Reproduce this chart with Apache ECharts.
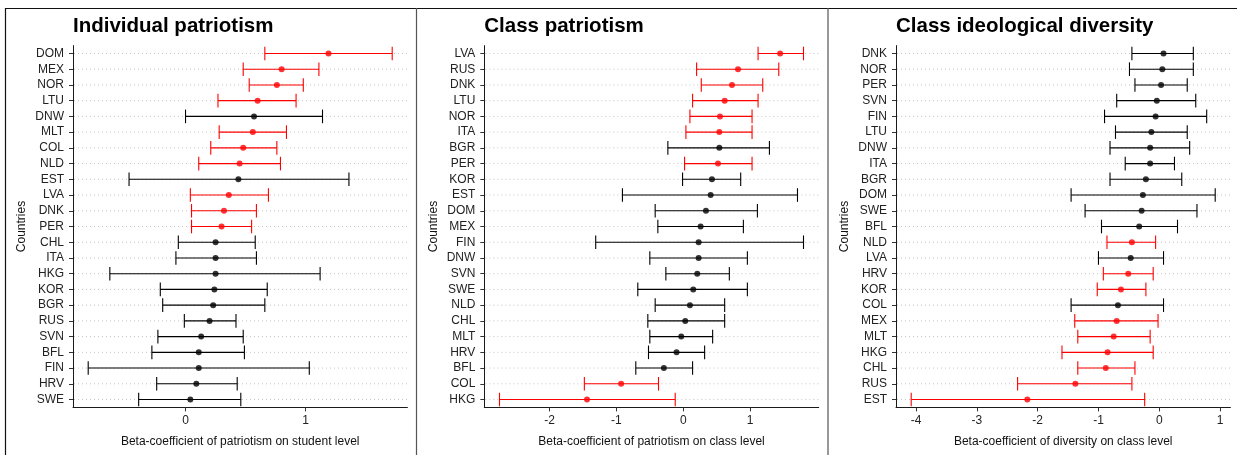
<!DOCTYPE html>
<html>
<head>
<meta charset="utf-8">
<script src="https://cdn.jsdelivr.net/npm/echarts@6/dist/echarts.min.js"></script>
<style>
html,body{margin:0;padding:0;background:#fff;}
#chart{width:1237px;height:455px;}
</style>
</head>
<body>
<div id="chart"></div>
<script>
// ---------- Data ----------
const panelTitles = ['Individual patriotism', 'Class patriotism', 'Class ideological diversity'];
const xAxisTitles = [
  'Beta-coefficient of patriotism on student level',
  'Beta-coefficient of patriotism on class level',
  'Beta-coefficient of diversity on class level'
];
const yAxisTitle = 'Countries';

const ticks1 = [0, 1];
const ticks2 = [-2, -1, 0, 1];
const ticks3 = [-4, -3, -2, -1, 0, 1];

// Panel 1: Individual patriotism (top to bottom)
const cats1 = ['DOM','MEX','NOR','LTU','DNW','MLT','COL','NLD','EST','LVA','DNK','PER','CHL','ITA','HKG','KOR','BGR','RUS','SVN','BFL','FIN','HRV','SWE'];
const est1  = [1.19,0.80,0.76,0.60,0.57,0.56,0.48,0.45,0.44,0.36,0.32,0.30,0.25,0.25,0.25,0.24,0.23,0.20,0.13,0.11,0.11,0.09,0.04];
const lo1   = [0.66,0.48,0.53,0.27,0.00,0.28,0.21,0.11,-0.47,0.04,0.05,0.05,-0.06,-0.08,-0.63,-0.21,-0.19,-0.01,-0.23,-0.28,-0.81,-0.24,-0.39];
const hi1   = [1.72,1.11,0.98,0.92,1.14,0.84,0.76,0.79,1.36,0.69,0.59,0.55,0.58,0.59,1.12,0.68,0.66,0.42,0.48,0.49,1.03,0.43,0.46];

// Panel 2: Class patriotism
const cats2 = ['LVA','RUS','DNK','LTU','NOR','ITA','BGR','PER','KOR','EST','DOM','MEX','FIN','DNW','SVN','SWE','NLD','CHL','MLT','HRV','BFL','COL','HKG'];
const est2  = [1.45,0.82,0.73,0.62,0.55,0.54,0.54,0.52,0.43,0.41,0.34,0.26,0.23,0.23,0.21,0.15,0.10,0.03,-0.03,-0.10,-0.29,-0.93,-1.44];
const lo2   = [1.12,0.20,0.27,0.14,0.10,0.04,-0.23,0.02,-0.01,-0.91,-0.42,-0.38,-1.31,-0.50,-0.26,-0.68,-0.42,-0.53,-0.50,-0.52,-0.71,-1.48,-2.75];
const hi2   = [1.80,1.43,1.19,1.12,1.03,1.03,1.29,1.03,0.86,1.71,1.11,0.90,1.80,0.96,0.69,0.96,0.62,0.62,0.44,0.32,0.14,-0.37,-0.12];

// Panel 3: Class ideological diversity
const cats3 = ['DNK','NOR','PER','SVN','FIN','LTU','DNW','ITA','BGR','DOM','SWE','BFL','NLD','LVA','HRV','KOR','COL','MEX','MLT','HKG','CHL','RUS','EST'];
const est3  = [0.07,0.05,0.03,-0.04,-0.06,-0.13,-0.15,-0.15,-0.22,-0.27,-0.29,-0.33,-0.45,-0.47,-0.51,-0.63,-0.68,-0.70,-0.75,-0.85,-0.88,-1.38,-2.17];
const lo3   = [-0.45,-0.49,-0.40,-0.70,-0.90,-0.72,-0.81,-0.56,-0.81,-1.45,-1.22,-0.95,-0.86,-1.00,-0.92,-1.02,-1.45,-1.39,-1.34,-1.60,-1.34,-2.33,-4.08];
const hi3   = [0.56,0.56,0.46,0.60,0.78,0.46,0.50,0.25,0.37,0.92,0.62,0.30,-0.06,0.07,-0.10,-0.22,0.07,-0.02,-0.15,-0.10,-0.40,-0.45,-0.24];

// ---------- Build ----------
const panels = [
  {cats: cats1, est: est1, lo: lo1, hi: hi1, ticks: ticks1},
  {cats: cats2, est: est2, lo: lo2, hi: hi2, ticks: ticks2},
  {cats: cats3, est: est3, lo: lo3, hi: hi3, ticks: ticks3}
];
const gridLefts = [73, 484.3, 896];
const gridTop = 45.6, gridW = 334.4, gridH = 361.8;
const FONT = '"Liberation Sans", Arial, sans-serif';
const RED = '#ff0000', BLACK = '#000000';
const sigColor = (lo, hi) => (lo > 0 || hi < 0) ? RED : BLACK;

const grids = [], xAxes = [], yAxes = [], series = [], titles = [];

panels.forEach((p, k) => {
  const dmin = Math.min(...p.lo), dmax = Math.max(...p.hi);
  const pad = (dmax - dmin) * 0.05;
  grids.push({left: gridLefts[k], top: gridTop, width: gridW, height: gridH, containLabel: false});
  titles.push({
    text: panelTitles[k], left: gridLefts[k], top: 16, padding: 0,
    textStyle: {fontFamily: FONT, fontSize: 20.5, fontWeight: 'bold', color: '#000'}
  });
  xAxes.push({
    type: 'value', gridIndex: k, min: dmin - pad, max: dmax + pad,
    axisLine: {show: true, onZero: false, lineStyle: {color: '#1a1a1a', width: 1}},
    axisTick: {show: true, length: 4, customValues: p.ticks, lineStyle: {color: '#333'}},
    axisLabel: {customValues: p.ticks, margin: 7, fontSize: 12, color: '#222', fontFamily: FONT},
    splitLine: {show: false},
    name: xAxisTitles[k], nameLocation: 'middle', nameGap: 28,
    nameTextStyle: {fontSize: 12, color: '#111', fontFamily: FONT}
  });
  yAxes.push({
    type: 'category', gridIndex: k, data: p.cats, inverse: true, boundaryGap: true,
    axisLine: {show: true, onZero: false, lineStyle: {color: '#1a1a1a', width: 1}},
    axisTick: {show: true, alignWithLabel: true, interval: 0, length: 4, lineStyle: {color: '#333'}},
    axisLabel: {interval: 0, margin: 9, fontSize: 12, color: '#222', fontFamily: FONT},
    splitLine: {show: false},
    name: yAxisTitle, nameLocation: 'middle', nameRotate: 90, nameGap: 45,
    nameTextStyle: {fontSize: 12, color: '#111', fontFamily: FONT}
  });
  series.push({
    type: 'custom', xAxisIndex: k, yAxisIndex: k, z: 2, silent: true,
    encode: {x: [1, 2], y: 0},
    data: p.cats.map((c, i) => [i, p.lo[i], p.hi[i]]),
    renderItem: function (params, api) {
      const i = api.value(0);
      const a = api.coord([api.value(1), i]);
      const b = api.coord([api.value(2), i]);
      const cs = params.coordSys;
      const col = sigColor(api.value(1), api.value(2));
      const h = 6.8;
      return {
        type: 'group',
        children: [
          {type: 'line', shape: {x1: cs.x + 1, y1: a[1], x2: cs.x + cs.width, y2: a[1]},
           style: {stroke: '#c4c4c4', lineWidth: 1, lineDash: [1, 3]}},
          {type: 'line', shape: {x1: a[0], y1: a[1], x2: b[0], y2: b[1]},
           style: {stroke: col, lineWidth: 1.1}},
          {type: 'line', shape: {x1: a[0], y1: a[1] - h, x2: a[0], y2: a[1] + h},
           style: {stroke: col, lineWidth: 1.1}},
          {type: 'line', shape: {x1: b[0], y1: b[1] - h, x2: b[0], y2: b[1] + h},
           style: {stroke: col, lineWidth: 1.1}}
        ]
      };
    }
  });
  series.push({
    type: 'scatter', xAxisIndex: k, yAxisIndex: k, z: 3, symbol: 'circle', symbolSize: 6,
    data: p.cats.map((c, i) => ({
      value: [p.est[i], i],
      itemStyle: {color: sigColor(p.lo[i], p.hi[i])}
    }))
  });
});

const chart = echarts.init(document.getElementById('chart'), null, {renderer: 'canvas'});
chart.setOption({
  animation: false,
  backgroundColor: '#ffffff',
  textStyle: {fontFamily: FONT},
  title: titles,
  grid: grids,
  xAxis: xAxes,
  yAxis: yAxes,
  series: series,
  graphic: [
    {type: 'line', silent: true, shape: {x1: 5, y1: 8.5, x2: 1237, y2: 8.5}, style: {stroke: '#111', lineWidth: 1.2}},
    {type: 'line', silent: true, shape: {x1: 5.5, y1: 8, x2: 5.5, y2: 455}, style: {stroke: '#111', lineWidth: 1.2}},
    {type: 'line', silent: true, shape: {x1: 416.5, y1: 8, x2: 416.5, y2: 455}, style: {stroke: '#555', lineWidth: 1.2}},
    {type: 'line', silent: true, shape: {x1: 828, y1: 8, x2: 828, y2: 455}, style: {stroke: '#555', lineWidth: 1.2}}
  ]
});
</script>
</body>
</html>
